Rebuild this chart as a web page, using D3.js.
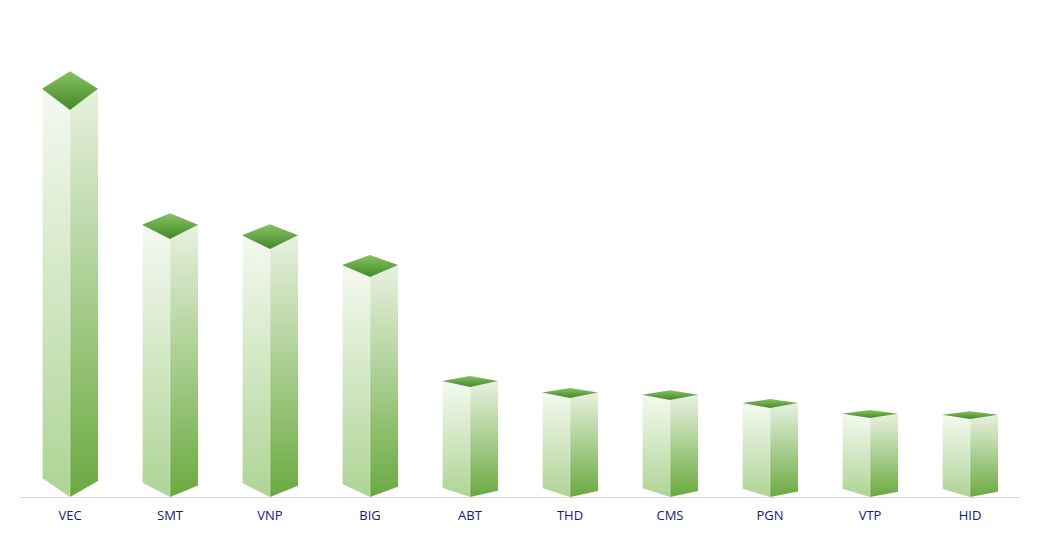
<!DOCTYPE html>
<html>
<head>
<meta charset="utf-8">
<script src="https://cdn.jsdelivr.net/npm/d3@7"></script>
<style>
  html, body { margin: 0; padding: 0; background: #ffffff; }
  svg { display: block; }
</style>
</head>
<body>
<script>
const categories = ["VEC", "SMT", "VNP", "BIG", "ABT", "THD", "CMS", "PGN", "VTP", "HID"];
const values = [387, 258, 248, 220, 110, 99, 97, 89, 79, 78];

const W = 1037, H = 533;
const svg = d3.select("body").append("svg").attr("width", W).attr("height", H);

const x = d3.scaleBand().domain(categories).range([20, 1020]).paddingInner(0.44).paddingOuter(0.22);
const y = d3.scaleLinear().domain([0, 400]).range([497, 97]);
const y0 = y(0);

const defs = svg.append("defs");
function grad(id, c0, c1) {
  const g = defs.append("linearGradient").attr("id", id).attr("x1", 0).attr("y1", 0).attr("x2", 0).attr("y2", 1);
  g.append("stop").attr("offset", "0%").attr("stop-color", c0);
  g.append("stop").attr("offset", "100%").attr("stop-color", c1);
}
grad("gLeft", "#f5f9f1", "#aed495");
grad("gRight", "#e8f1e0", "#6aaa40");
grad("gTop", "#86c262", "#468828");

// baseline
svg.append("line")
  .attr("x1", x.range()[0]).attr("x2", x.range()[1])
  .attr("y1", y0 + 0.5).attr("y2", y0 + 0.5)
  .attr("stroke", "#d9d9d9").attr("stroke-width", 1);

const data = categories.map((c, i) => ({ c, v: values[i] }));
const hw = x.bandwidth() / 2;

const bars = svg.append("g").selectAll("g").data(data).join("g");

bars.each(function(d) {
  const g = d3.select(this);
  const cx = x(d.c) + hw;
  const yt = y(d.v);
  const h = y0 - yt;
  const dLow = 0.055 * h, dUp = 0.045 * h;
  const db = 4 + 0.035 * h;
  const dbL = db + 1.5, dbR = db - 1.5;
  const pts = a => a.map(p => p.join(",")).join(" ");
  g.append("polygon").attr("points", pts([[cx - hw, yt - dLow], [cx, yt], [cx, y0], [cx - hw, y0 - dbL]]))
    .attr("fill", "url(#gLeft)");
  g.append("polygon").attr("points", pts([[cx, yt], [cx + hw, yt - dLow], [cx + hw, y0 - dbR], [cx, y0]]))
    .attr("fill", "url(#gRight)");
  g.append("polygon").attr("points", pts([[cx, yt], [cx - hw, yt - dLow], [cx, yt - dLow - dUp], [cx + hw, yt - dLow]]))
    .attr("fill", "url(#gTop)");
  // soft highlight edges
  g.append("line").attr("x1", cx - hw + 0.5).attr("x2", cx - hw + 0.5).attr("y1", yt - dLow).attr("y2", y0 - dbL)
    .attr("stroke", "#ffffff").attr("stroke-opacity", 0.6);
  g.append("line").attr("x1", cx).attr("x2", cx).attr("y1", yt + 1).attr("y2", y0)
    .attr("stroke", "#ffffff").attr("stroke-opacity", 0.35);
});

svg.append("g").selectAll("text").data(categories).join("text")
  .attr("x", d => x(d) + hw)
  .attr("y", 520)
  .attr("text-anchor", "middle")
  .attr("font-family", "'Segoe UI', 'Open Sans', 'DejaVu Sans', sans-serif")
  .attr("font-size", 13)
  .attr("fill", "#12207a")
  .text(d => d);
</script>
</body>
</html>
